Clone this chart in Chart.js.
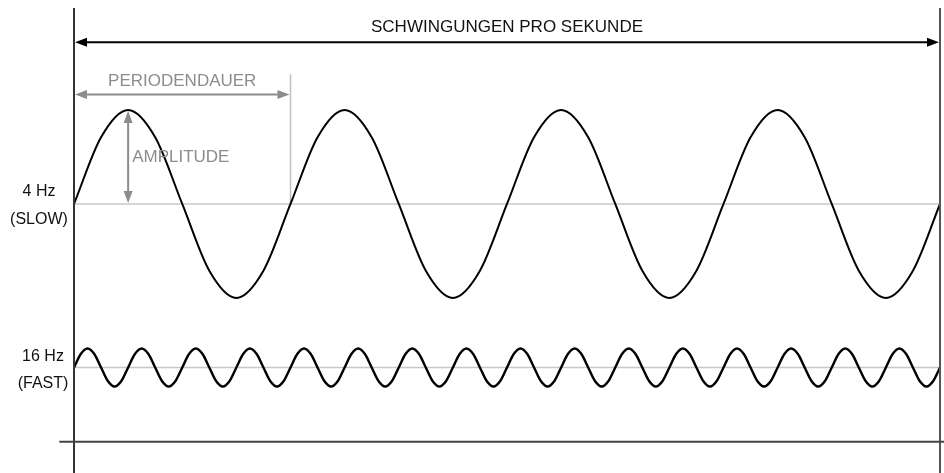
<!DOCTYPE html>
<html>
<head>
<meta charset="utf-8">
<script src="https://cdn.jsdelivr.net/npm/chart.js@4/dist/chart.umd.min.js"></script>
<style>
  html, body { margin: 0; padding: 0; background: #fff; }
  #wrap { width: 944px; height: 473px; position: relative; }
</style>
</head>
<body>
<div id="wrap"><canvas id="wave"></canvas></div>
<script>
// wave samples at every eighth of a period (relative amplitude), one second wide
const slowValues = [
  0, 0.71, 1, 0.71, 0, -0.71, -1, -0.71,
  0, 0.71, 1, 0.71, 0, -0.71, -1, -0.71,
  0, 0.71, 1, 0.71, 0, -0.71, -1, -0.71,
  0, 0.71, 1, 0.71, 0, -0.71, -1, -0.71,
  0
];
const fastValues = [
  0, 0.71, 1, 0.71, 0, -0.71, -1, -0.71,
  0, 0.71, 1, 0.71, 0, -0.71, -1, -0.71,
  0, 0.71, 1, 0.71, 0, -0.71, -1, -0.71,
  0, 0.71, 1, 0.71, 0, -0.71, -1, -0.71,
  0, 0.71, 1, 0.71, 0, -0.71, -1, -0.71,
  0, 0.71, 1, 0.71, 0, -0.71, -1, -0.71,
  0, 0.71, 1, 0.71, 0, -0.71, -1, -0.71,
  0, 0.71, 1, 0.71, 0, -0.71, -1, -0.71,
  0, 0.71, 1, 0.71, 0, -0.71, -1, -0.71,
  0, 0.71, 1, 0.71, 0, -0.71, -1, -0.71,
  0, 0.71, 1, 0.71, 0, -0.71, -1, -0.71,
  0, 0.71, 1, 0.71, 0, -0.71, -1, -0.71,
  0, 0.71, 1, 0.71, 0, -0.71, -1, -0.71,
  0, 0.71, 1, 0.71, 0, -0.71, -1, -0.71,
  0, 0.71, 1, 0.71, 0, -0.71, -1, -0.71,
  0, 0.71, 1, 0.71, 0, -0.71, -1, -0.71,
  0
];
const slowLabel = ['4 Hz', '(SLOW)'];
const fastLabel = ['16 Hz', '(FAST)'];
const titleText = 'SCHWINGUNGEN PRO SEKUNDE';
const periodText = 'PERIODENDAUER';
const amplitudeText = 'AMPLITUDE';
const slowPeriod = 0.25;   // seconds

const FONT = "'Liberation Sans', Arial, sans-serif";
const GREY = '#8c8c8c';

// x runs over one second
const toPoints = vals => vals.map((v, i) => ({ x: i / (vals.length - 1), y: v }));

function seg(ctx, x1, y1, x2, y2, color, w) {
  ctx.save();
  ctx.strokeStyle = color;
  ctx.lineWidth = w;
  ctx.beginPath();
  ctx.moveTo(x1, y1);
  ctx.lineTo(x2, y2);
  ctx.stroke();
  ctx.restore();
}

// filled arrow head with its tip at (tx, ty), pointing along (dx, dy)
function head(ctx, tx, ty, dx, dy, color) {
  const len = 12, half = 4.5;
  const px = -dy, py = dx;
  ctx.save();
  ctx.fillStyle = color;
  ctx.beginPath();
  ctx.moveTo(tx, ty);
  ctx.lineTo(tx - dx * len + px * half, ty - dy * len + py * half);
  ctx.lineTo(tx - dx * len - px * half, ty - dy * len - py * half);
  ctx.closePath();
  ctx.fill();
  ctx.restore();
}

function text(ctx, str, x, y, align, color, size) {
  ctx.save();
  ctx.font = size + 'px ' + FONT;
  ctx.fillStyle = color;
  ctx.textAlign = align;
  ctx.textBaseline = 'middle';
  ctx.fillText(str, x, y);
  ctx.restore();
}

const overlay = {
  id: 'overlay',
  beforeDatasetsDraw(chart) {
    const { ctx, scales: { x, ySlow, yFast } } = chart;
    const x0 = x.getPixelForValue(0), x1 = x.getPixelForValue(1);
    // zero lines of both traces
    seg(ctx, x0, ySlow.getPixelForValue(0), x1, ySlow.getPixelForValue(0), '#c8c8c8', 1.5);
    seg(ctx, x0, yFast.getPixelForValue(0), x1, yFast.getPixelForValue(0), '#c8c8c8', 1.5);
    // period marker
    const xp = x.getPixelForValue(slowPeriod);
    seg(ctx, xp, ySlow.getPixelForValue(1.38), xp, ySlow.getPixelForValue(0), '#bdbdbd', 1.5);
  },
  afterDatasetsDraw(chart) {
    const { ctx, scales: { x, ySlow, yFast } } = chart;
    const x0 = x.getPixelForValue(0), x1 = x.getPixelForValue(1);
    const top = ySlow.getPixelForValue(2.085), bottom = ySlow.getPixelForValue(ySlow.min);

    // frame
    seg(ctx, x0, top, x0, bottom, '#333', 2);
    seg(ctx, x1, top, x1, bottom, '#555', 2);
    const yb = ySlow.getPixelForValue(-2.53);
    seg(ctx, x.getPixelForValue(-0.017), yb, x.getPixelForValue(1.005), yb, '#444', 2);

    // one second arrow
    const ya = ySlow.getPixelForValue(1.72);
    seg(ctx, x0 + 6, ya, x1 - 6, ya, '#000', 2);
    head(ctx, x0 + 1, ya, -1, 0, '#000');
    head(ctx, x1 - 1, ya, 1, 0, '#000');
    text(ctx, titleText, x.getPixelForValue(0.5), ySlow.getPixelForValue(1.88), 'center', '#111', 17);

    // period arrow
    const xp = x.getPixelForValue(slowPeriod);
    const yp = ySlow.getPixelForValue(1.165);
    seg(ctx, x0 + 6, yp, xp - 6, yp, GREY, 2);
    head(ctx, x0 + 1, yp, -1, 0, GREY);
    head(ctx, xp - 1, yp, 1, 0, GREY);
    text(ctx, periodText, x.getPixelForValue(slowPeriod / 2), ySlow.getPixelForValue(1.3), 'center', GREY, 17);

    // amplitude arrow at the first crest
    const xa = x.getPixelForValue(slowPeriod / 4);
    const yTop = ySlow.getPixelForValue(1), yZero = ySlow.getPixelForValue(0);
    seg(ctx, xa, yTop + 6, xa, yZero - 6, GREY, 2);
    head(ctx, xa, yTop + 1, 0, -1, GREY);
    head(ctx, xa, yZero - 1, 0, 1, GREY);
    text(ctx, amplitudeText, xa + 4, ySlow.getPixelForValue(0.5), 'left', GREY, 17);

    // row labels, centred left of the frame
    text(ctx, slowLabel[0], x0 - 35, ySlow.getPixelForValue(0.13), 'center', '#111', 16);
    text(ctx, slowLabel[1], x0 - 35, ySlow.getPixelForValue(-0.17), 'center', '#111', 16);
    text(ctx, fastLabel[0], x0 - 31, yFast.getPixelForValue(0.6), 'center', '#111', 16);
    text(ctx, fastLabel[1], x0 - 31, yFast.getPixelForValue(-0.82), 'center', '#111', 16);
  }
};

new Chart(document.getElementById('wave'), {
  type: 'line',
  data: {
    datasets: [
      { label: '4 Hz', data: toPoints(slowValues), yAxisID: 'ySlow',
        borderColor: '#000', borderWidth: 2, pointRadius: 0,
        cubicInterpolationMode: 'monotone', fill: false },
      { label: '16 Hz', data: toPoints(fastValues), yAxisID: 'yFast',
        borderColor: '#000', borderWidth: 2.4, pointRadius: 0,
        cubicInterpolationMode: 'monotone', fill: false }
    ]
  },
  options: {
    responsive: true,
    maintainAspectRatio: false,
    animation: false,
    events: [],
    layout: { padding: { left: 74, right: 4, top: 0, bottom: 0 } },
    plugins: { legend: { display: false }, tooltip: { enabled: false } },
    scales: {
      x: { type: 'linear', min: 0, max: 1, display: false },
      ySlow: { type: 'linear', min: -2.862, max: 2.170, display: false },
      yFast: { type: 'linear', min: -5.55, max: 19.34, display: false }
    }
  },
  plugins: [overlay]
});
</script>
</body>
</html>
